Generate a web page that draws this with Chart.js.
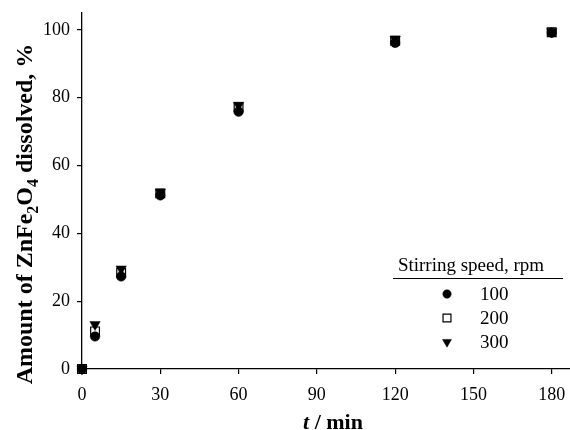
<!DOCTYPE html>
<html>
<head>
<meta charset="utf-8">
<script src="https://cdn.jsdelivr.net/npm/chart.js@4/dist/chart.umd.min.js"></script>
<style>
  html, body { margin: 0; padding: 0; background: #fff; }
  #wrap { width: 570px; height: 430px; position: relative; }
</style>
</head>
<body>
<div id="wrap"><canvas id="c" width="570" height="430"></canvas></div>
<script>
// ---- Data ----
const times   = [0, 5, 15, 30, 60, 120, 180];       // t / min
const rpm100  = [0, 9.6, 27.3, 51.2, 75.9, 96.2, 99.2];
const rpm200  = [0, 11.1, 28.4, 51.8, 77.2, 96.8, 99.3];
const rpm300  = [0, 13.1, 29.5, 52.2, 77.8, 97.3, 99.5];
const seriesLabels = ['100', '200', '300'];
const xTickVals = [0, 30, 60, 90, 120, 150, 180];
const yTickVals = [0, 20, 40, 60, 80, 100];
const legendTitle = 'Stirring speed, rpm';

const SERIF = '"Liberation Serif", "Times New Roman", serif';

function pts(ys) { return times.map((t, i) => ({ x: t, y: ys[i] })); }

// Custom legend + axis titles (with subscripts / italic)
const decorPlugin = {
  id: 'decor',
  afterDraw(chart) {
    const ctx = chart.ctx;
    ctx.save();
    ctx.fillStyle = '#000';
    ctx.strokeStyle = '#000';

    // ---- Y axis title: "Amount of ZnFe2O4 dissolved, %" ----
    const big = 'bold 24px ' + SERIF;
    const small = 'bold 16px ' + SERIF;
    const parts = [
      { t: 'Amount of ZnFe', f: big, dy: 0 },
      { t: '2', f: small, dy: 6 },
      { t: 'O', f: big, dy: 0 },
      { t: '4', f: small, dy: 6 },
      { t: ' dissolved, %', f: big, dy: 0 }
    ];
    let total = 0;
    parts.forEach(p => { ctx.font = p.f; p.w = ctx.measureText(p.t).width; total += p.w; });
    ctx.translate(32, 214);
    ctx.rotate(-Math.PI / 2);
    ctx.textBaseline = 'alphabetic';
    ctx.textAlign = 'left';
    let x = -total / 2;
    parts.forEach(p => { ctx.font = p.f; ctx.fillText(p.t, x, p.dy); x += p.w; });
    ctx.setTransform(1, 0, 0, 1, 0, 0);

    // ---- X axis title: "t / min" ----
    const xa = [
      { t: 't', f: 'italic bold 22px ' + SERIF },
      { t: ' / min', f: 'bold 22px ' + SERIF }
    ];
    let tw = 0;
    xa.forEach(p => { ctx.font = p.f; p.w = ctx.measureText(p.t).width; tw += p.w; });
    let xx = 333 - tw / 2;
    ctx.textBaseline = 'alphabetic';
    xa.forEach(p => { ctx.font = p.f; ctx.fillText(p.t, xx, 429); xx += p.w; });

    // ---- Legend ----
    ctx.font = '19px ' + SERIF;
    ctx.textAlign = 'center';
    ctx.textBaseline = 'alphabetic';
    ctx.fillText(legendTitle, 471, 271);
    ctx.lineWidth = 1.2;
    ctx.beginPath();
    ctx.moveTo(393, 278.5);
    ctx.lineTo(563, 278.5);
    ctx.stroke();
    ctx.textAlign = 'left';
    ctx.textBaseline = 'middle';
    const rows = [294, 318, 342];
    chart.data.datasets.forEach((ds, i) => {
      const opts = {
        pointStyle: ds.pointStyle,
        radius: ds.legendRadius,
        rotation: ds.pointRotation || 0,
        borderWidth: ds.borderWidth
      };
      ctx.fillStyle = ds.backgroundColor;
      ctx.strokeStyle = ds.borderColor;
      ctx.lineWidth = ds.borderWidth;
      Chart.helpers.drawPoint(ctx, opts, 447, rows[i]);
      ctx.fillStyle = '#000';
      ctx.font = '19px ' + SERIF;
      ctx.fillText(ds.label, 480, rows[i] + 1);
    });
    ctx.restore();
  }
};

new Chart(document.getElementById('c'), {
  type: 'scatter',
  data: {
    datasets: [
      { label: seriesLabels[0], data: pts(rpm100), pointStyle: 'circle', pointRadius: 4.8, legendRadius: 4.2,
        backgroundColor: '#000', borderColor: '#000', borderWidth: 0.5, clip: false, order: 2 },
      { label: seriesLabels[1], data: pts(rpm200), pointStyle: 'rect', pointRadius: 6.2, legendRadius: 5.6,
        backgroundColor: '#fff', borderColor: '#000', borderWidth: 1.2, clip: false, order: 3 },
      { label: seriesLabels[2], data: pts(rpm300), pointStyle: 'triangle', pointRotation: 180,
        pointRadius: 6, legendRadius: 5.2,
        backgroundColor: '#000', borderColor: '#000', borderWidth: 0.5, clip: false, order: 1 }
    ]
  },
  options: {
    responsive: false,
    animation: false,
    events: [],
    layout: { autoPadding: false, padding: { top: 13, right: 0, left: 0, bottom: 0 } },
    plugins: { legend: { display: false }, tooltip: { enabled: false } },
    scales: {
      x: {
        type: 'linear', min: 0, max: 187,
        border: { display: true, color: '#000', width: 1.3 },
        grid: { display: true, drawOnChartArea: false, drawTicks: true, tickLength: 5, color: '#000', lineWidth: 1.2 },
        ticks: { color: '#000', font: { family: SERIF, size: 18 }, padding: 10, maxRotation: 0 },
        afterBuildTicks: s => { s.ticks = xTickVals.map(v => ({ value: v })); },
        afterFit: s => { s.height = 61; s.paddingRight = 0; s.paddingLeft = 0; }
      },
      y: {
        type: 'linear', min: 0, max: 105,
        border: { display: true, color: '#000', width: 1.3 },
        grid: { display: true, drawOnChartArea: false, drawTicks: true, tickLength: 5, color: '#000', lineWidth: 1.2 },
        ticks: { color: '#000', font: { family: SERIF, size: 18 }, padding: 7 },
        afterBuildTicks: s => { s.ticks = yTickVals.map(v => ({ value: v })); },
        afterFit: s => { s.width = 82; s.paddingTop = 0; s.paddingBottom = 0; }
      }
    }
  },
  plugins: [decorPlugin]
});
</script>
</body>
</html>
